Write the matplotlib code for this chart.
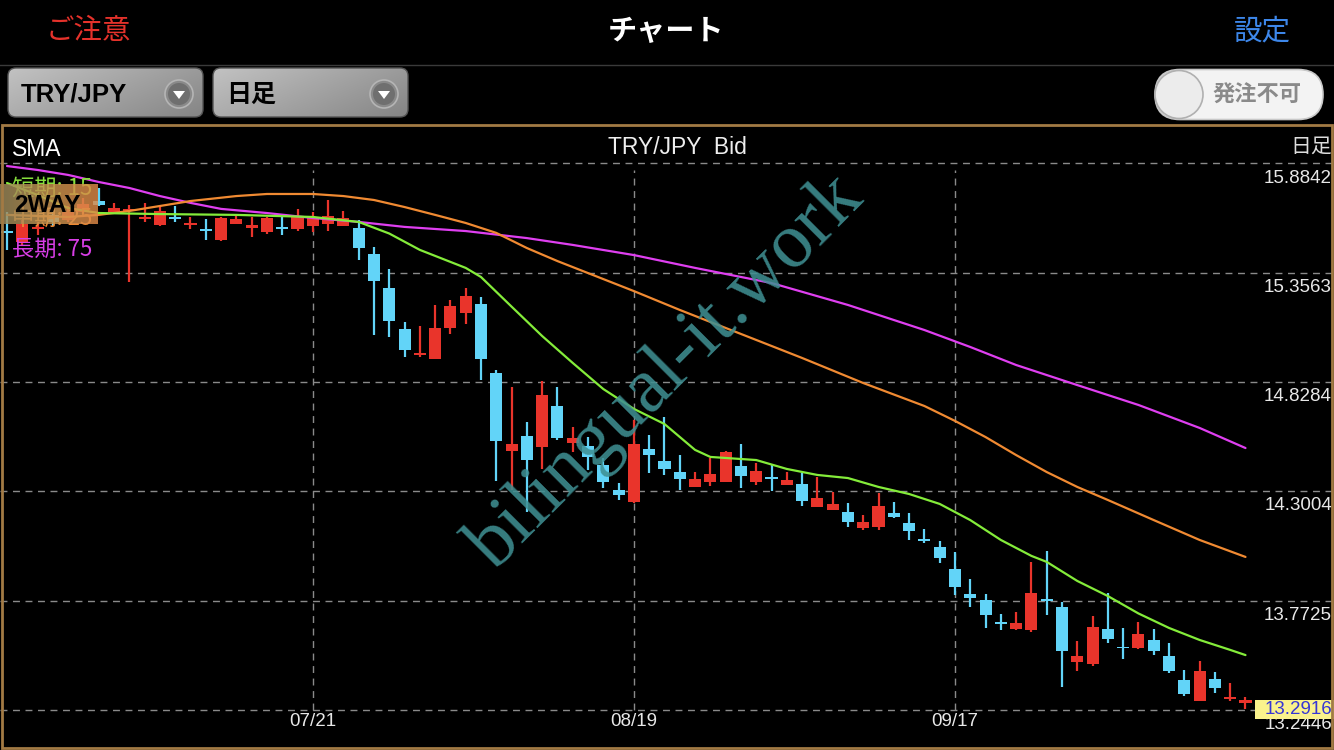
import numpy as np
import matplotlib
matplotlib.use('Agg')
import matplotlib.pyplot as plt
from matplotlib.patches import FancyBboxPatch, Rectangle, Circle, Polygon
from matplotlib.colors import LinearSegmentedColormap

plt.rcParams['font.family'] = ['Liberation Sans', 'Noto Sans CJK JP', 'DejaVu Sans']
JP = ['Noto Sans CJK JP', 'Liberation Sans', 'DejaVu Sans']

# ---------------- data ----------------
opens = [15.557, 15.504, 15.567, 15.635, 15.610, 15.649, 15.702, 15.644, 15.654, 15.615,
         15.586, 15.625, 15.586, 15.567, 15.514, 15.591, 15.574, 15.552, 15.577, 15.567,
         15.581, 15.591, 15.581, 15.572, 15.446, 15.282, 15.084, 14.958, 14.939, 15.089,
         15.161, 15.205, 14.871, 14.495, 14.567, 14.514, 14.712, 14.533, 14.519, 14.427,
         14.306, 14.248, 14.504, 14.446, 14.393, 14.321, 14.345, 14.345, 14.422, 14.345,
         14.369, 14.330, 14.335, 14.224, 14.210, 14.200, 14.123, 14.128, 14.195, 14.147,
         14.070, 14.031, 13.925, 13.804, 13.775, 13.669, 13.635, 13.630, 13.780, 13.741,
         13.476, 13.466, 13.635, 13.550, 13.543, 13.582, 13.505, 13.389, 13.287, 13.393,
         13.297, 13.278]
highs = [15.649, 15.610, 15.601, 15.659, 15.678, 15.717, 15.765, 15.693, 15.683, 15.693,
         15.678, 15.678, 15.625, 15.615, 15.625, 15.635, 15.625, 15.625, 15.639, 15.664,
         15.649, 15.707, 15.654, 15.610, 15.480, 15.374, 15.118, 15.098, 15.200, 15.224,
         15.282, 15.238, 14.886, 14.804, 14.635, 14.833, 14.804, 14.611, 14.562, 14.461,
         14.340, 14.644, 14.572, 14.659, 14.475, 14.393, 14.461, 14.495, 14.528, 14.437,
         14.427, 14.393, 14.388, 14.369, 14.297, 14.244, 14.186, 14.292, 14.248, 14.195,
         14.118, 14.060, 14.007, 13.876, 13.804, 13.707, 13.717, 13.959, 14.012, 13.765,
         13.577, 13.698, 13.809, 13.640, 13.669, 13.635, 13.567, 13.437, 13.480, 13.427,
         13.374, 13.307]
lows = [15.466, 15.490, 15.538, 15.581, 15.601, 15.639, 15.678, 15.644, 15.311, 15.601,
        15.581, 15.601, 15.567, 15.514, 15.509, 15.591, 15.528, 15.543, 15.538, 15.557,
        15.552, 15.557, 15.581, 15.417, 15.055, 15.045, 14.949, 14.949, 14.939, 15.060,
        15.108, 14.838, 14.350, 14.306, 14.200, 14.408, 14.548, 14.490, 14.403, 14.316,
        14.258, 14.244, 14.388, 14.379, 14.306, 14.321, 14.326, 14.345, 14.316, 14.330,
        14.301, 14.330, 14.229, 14.224, 14.210, 14.128, 14.113, 14.113, 14.171, 14.065,
        14.050, 13.954, 13.799, 13.741, 13.640, 13.630, 13.630, 13.620, 13.703, 13.355,
        13.432, 13.456, 13.567, 13.490, 13.538, 13.509, 13.422, 13.311, 13.287, 13.326,
        13.287, 13.249]
closes = [15.548, 15.591, 15.577, 15.601, 15.649, 15.688, 15.683, 15.668, 15.659, 15.625,
          15.654, 15.615, 15.596, 15.557, 15.620, 15.615, 15.584, 15.620, 15.567, 15.630,
          15.620, 15.630, 15.620, 15.475, 15.316, 15.123, 14.983, 14.968, 15.089, 15.195,
          15.243, 14.939, 14.543, 14.528, 14.451, 14.765, 14.557, 14.557, 14.466, 14.345,
          14.282, 14.528, 14.475, 14.408, 14.359, 14.359, 14.384, 14.490, 14.374, 14.398,
          14.359, 14.355, 14.253, 14.268, 14.239, 14.152, 14.152, 14.229, 14.176, 14.108,
          14.060, 13.978, 13.838, 13.785, 13.703, 13.659, 13.664, 13.809, 13.770, 13.529,
          13.505, 13.645, 13.587, 13.541, 13.611, 13.529, 13.432, 13.321, 13.432, 13.350,
          13.304, 13.2916]

# SMA lines (candle index, price)
sma15_idx = [0, 2, 4, 6, 10, 15, 20, 23, 25, 27, 30, 31, 33, 35, 37, 39, 41, 43, 45, 46,
             47, 49, 51, 53, 55, 57, 59, 61, 63, 65, 67, 68, 70, 72, 74, 76, 78, 80, 81]
sma15_val = [15.789, 15.731, 15.668, 15.644, 15.639, 15.635, 15.625, 15.601, 15.545, 15.466,
             15.379, 15.335, 15.192, 15.050, 14.920, 14.794, 14.698, 14.625, 14.500, 14.466,
             14.461, 14.451, 14.408, 14.379, 14.364, 14.321, 14.287, 14.239, 14.161, 14.065,
             13.988, 13.959, 13.867, 13.794, 13.710, 13.640, 13.582, 13.534, 13.509]
sma25_idx = [0, 4, 6, 8, 10, 12, 15, 17, 20, 22, 24, 26, 28, 30, 32, 34, 36, 38, 41, 44,
             48, 52, 56, 60, 62, 64, 66, 68, 70, 72, 75, 78, 81]
sma25_val = [15.635, 15.625, 15.635, 15.654, 15.678, 15.702, 15.726, 15.736, 15.736, 15.726,
             15.707, 15.673, 15.635, 15.596, 15.548, 15.475, 15.412, 15.354, 15.267, 15.176,
             15.060, 14.944, 14.823, 14.712, 14.640, 14.562, 14.475, 14.393, 14.321, 14.258,
             14.161, 14.065, 13.983]
sma75_idx = [0, 2, 4, 6, 8, 10, 12, 14, 17, 20, 23, 26, 30, 34, 37, 41, 45, 50, 55, 60,
             63, 66, 70, 74, 78, 81]
sma75_val = [15.871, 15.852, 15.828, 15.794, 15.765, 15.726, 15.693, 15.664, 15.644, 15.620,
             15.601, 15.577, 15.557, 15.523, 15.490, 15.441, 15.379, 15.306, 15.200, 15.079,
             14.997, 14.910, 14.813, 14.717, 14.606, 14.509]

grid_levels = [15.8842, 15.3563, 14.8284, 14.3004, 13.7725, 13.2446]
grid_labels = ['15.8842', '15.3563', '14.8284', '14.3004', '13.7725', '13.2446']
date_idx = [20, 41, 62]
date_labels = ['07/21', '08/19', '09/17']
last_price_label = '13.2916'

# ---------------- figure ----------------
W, H = 1334, 750
fig = plt.figure(figsize=(W / 100, H / 100), dpi=100, facecolor='black')

# background UI layer (pixel coordinates)
ui = fig.add_axes([0, 0, 1, 1], zorder=0)
ui.set_xlim(0, W); ui.set_ylim(H, 0); ui.axis('off')
ui.set_facecolor('black')

# header
ui.text(88, 31, 'ご注意', color='#e5322b', fontsize=20.5, family=JP, ha='center', va='center')
ui.text(666, 31, 'チャート', color='white', fontsize=21, family=JP, weight='bold', ha='center', va='center')
ui.text(1262, 31, '設定', color='#3d87ea', fontsize=20.5, family=JP, ha='center', va='center')
ui.plot([0, W], [64.5, 64.5], color='#3a3a3a', lw=1)


def grad_box(x0, y0, w, h, r, c1, c2, ec='#555555', alpha=1.0, z=1):
    patch = FancyBboxPatch((x0 + r, y0 + r), w - 2 * r, h - 2 * r,
                           boxstyle=f'round,pad={r}', fc='none', ec=ec, lw=1, zorder=z + 1)
    ui.add_patch(patch)
    gx, gy = np.meshgrid(np.linspace(0, 1, 200), np.linspace(0, 1, 60))
    g = 0.65 * gx + 0.35 * gy
    cmap = LinearSegmentedColormap.from_list('g', [c1, c2])
    im = ui.imshow(g, extent=(x0, x0 + w, y0 + h, y0), origin='upper', cmap=cmap,
                   aspect='auto', zorder=z, alpha=alpha, interpolation='bilinear')
    im.set_clip_path(patch)
    return patch


def drop_icon(cx, cy):
    ui.add_patch(Circle((cx, cy), 14, fc='#8a8a8a', ec='#b5b5b5', lw=1.2, zorder=4))
    ui.add_patch(Circle((cx, cy), 11, fc='#6f6f6f', ec='none', zorder=4))
    ui.add_patch(Polygon([(cx - 6, cy - 3), (cx + 6, cy - 3), (cx, cy + 5)],
                         closed=True, fc='white', ec='none', zorder=5))


grad_box(8, 68, 195, 49, 8, '#c2c2c2', '#858585')
grad_box(213, 68, 195, 49, 8, '#c2c2c2', '#858585')
ui.text(21, 95, 'TRY/JPY', color='black', fontsize=18.5, weight='bold', ha='left', va='center', zorder=6)
ui.text(226, 95, '日足', color='black', fontsize=18, weight='bold', family=JP, ha='left', va='center', zorder=6)
drop_icon(179, 94)
drop_icon(384, 94)

# toggle (pill)
ui.add_patch(FancyBboxPatch((1180, 94.5), 118, 0.01, boxstyle='round,pad=25',
                            fc='#f3f3f3', ec='#c8c8c8', lw=1.2, zorder=2))
ui.add_patch(Circle((1179, 94.5), 24, fc='#ececec', ec='#b0b0b0', lw=1.2, zorder=3))
ui.text(1257, 95, '発注不可', color='#8a8a8a', fontsize=16, family=JP, weight='bold',
        ha='center', va='center', zorder=4)

# ---------------- price chart ----------------
step, x0px = 15.29, 7.0
ppp = 0.5279 / 109.3          # price per pixel
y_top = 15.8842 + (163.3 - 126) * ppp
y_bot = 15.8842 - (747 - 163.3) * ppp

ax = fig.add_axes([0, 3 / H, 1, 621 / H], zorder=2)
ax.set_facecolor('none')
ax.set_xlim(-x0px / step, (W - x0px) / step)
ax.set_ylim(y_bot, y_top)
ax.axis('off')

for g in grid_levels:
    ax.axhline(g, color='#8a8a8a', lw=1.0, dashes=(5, 4), zorder=1)

for i in date_idx:
    ax.plot([i, i], [grid_levels[-1], 15.852], color='#8a8a8a', lw=1.0, dashes=(5, 4), zorder=1)

for lab, g in zip(grid_labels, grid_levels):
    ax.annotate(lab, xy=(1, g), xycoords=('axes fraction', 'data'), xytext=(-1.5, -4.5),
                textcoords='offset points', ha='right', va='top', color='#e8e8e8',
                fontsize=13.5, zorder=3)
for i, lab in zip(date_idx, date_labels):
    ax.annotate(lab, xy=(i, grid_levels[-1]), xytext=(0, -2.5), textcoords='offset points',
                ha='center', va='top', color='#e8e8e8', fontsize=13.5, zorder=3)

red, cyan = '#e9342b', '#62d4f8'
xs = np.arange(len(opens))
for i in xs:
    o, h, l, c = opens[i], highs[i], lows[i], closes[i]
    col = red if c >= o else cyan
    ax.vlines(i, l, h, color=col, lw=1.6, zorder=4)
    bh = max(abs(c - o), 1.6 * ppp)
    ax.bar(i, bh, bottom=min(o, c), width=0.79, color=col, edgecolor='none', zorder=5)

ax.plot(sma75_idx, sma75_val, color='#df3ff0', lw=1.6, zorder=6, solid_capstyle='round')
ax.plot(sma25_idx, sma25_val, color='#f08a32', lw=1.6, zorder=6, solid_capstyle='round')
ax.plot(sma15_idx, sma15_val, color='#84ec3a', lw=1.6, zorder=6, solid_capstyle='round')

# last price marker
bx0 = (1255 - x0px) / step
ax.add_patch(Rectangle((bx0, closes[-1] - 19 * ppp), (W - x0px) / step - bx0, 19 * ppp,
                       fc='#faf28c', ec='none', zorder=8))
ax.annotate(last_price_label, xy=(1, closes[-1] - 9.5 * ppp), xycoords=('axes fraction', 'data'),
            xytext=(-1.5, 0), textcoords='offset points', ha='right', va='center',
            color='#3636d6', fontsize=13.5, zorder=9)

# ---------------- overlay layer ----------------
top = fig.add_axes([0, 0, 1, 1], zorder=5)
top.set_xlim(0, W); top.set_ylim(H, 0); top.axis('off')
top.patch.set_alpha(0)

top.add_patch(Rectangle((2, 125), 1330, 623, fc='none', ec='#a27a44', lw=2, zorder=20))
top.text(12, 149, 'SMA', color='white', fontsize=16.5, ha='left', va='center')
top.text(677, 147, 'TRY/JPY  Bid', color='#eeeeee', fontsize=16.5, ha='center', va='center')
top.text(1332, 147, '日足', color='#dddddd', fontsize=15, family=JP, ha='right', va='center')
top.text(12, 188, '短期: 15', color='#86e03c', fontsize=16, family=JP, ha='left', va='center', zorder=2)
top.text(12, 218, '中期: 25', color='#f08a32', fontsize=16, family=JP, ha='left', va='center', zorder=2)
top.text(12, 249, '長期: 75', color='#d83ee6', fontsize=16, family=JP, ha='left', va='center', zorder=2)

# 2WAY badge
gx, gy = np.meshgrid(np.linspace(0, 1, 100), np.linspace(0, 1, 30))
badge_cmap = LinearSegmentedColormap.from_list('b', ['#9a8a5c', '#c99550', '#e08a48'])
top.imshow(gx, extent=(0, 98, 224, 184), origin='upper', cmap=badge_cmap, aspect='auto',
           alpha=0.82, zorder=3)
top.set_xlim(0, W); top.set_ylim(H, 0)
top.text(14, 206, '2WAY', color='black', fontsize=17.5, weight='bold', ha='left', va='center', zorder=4)

# watermark
top.text(667, 372, 'bilingual-it.work', color='#3f8f92', alpha=0.88, fontsize=56,
         family=['Liberation Serif', 'DejaVu Serif'], rotation=45, rotation_mode='anchor',
         ha='center', va='center', zorder=1)

fig.savefig('out.png', dpi=100, facecolor='black')
